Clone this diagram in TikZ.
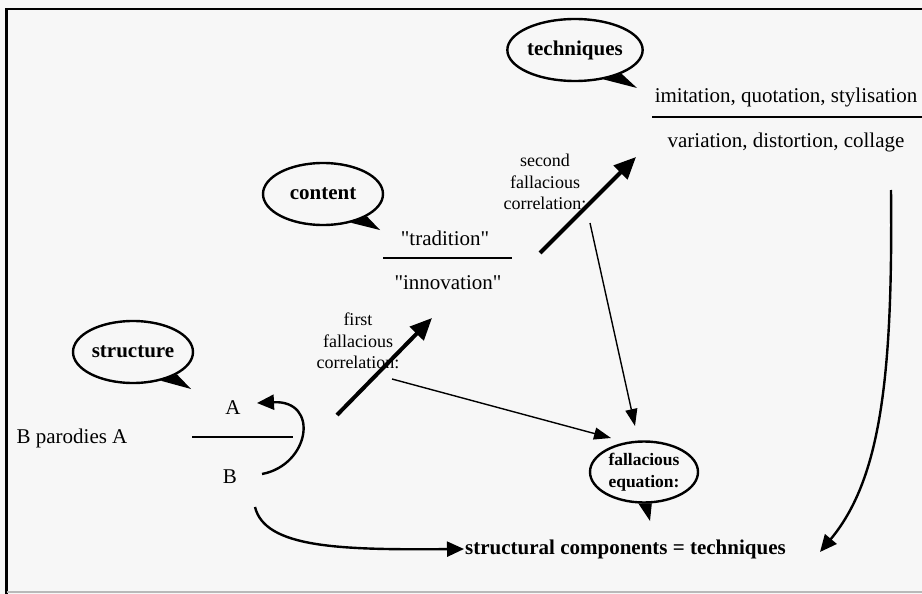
\documentclass[tikz,border=0pt]{standalone}
\usepackage{fontspec}
\setmainfont{Liberation Serif}
\usetikzlibrary{shapes.geometric,arrows.meta}
\begin{document}
\begin{tikzpicture}[x=1pt,y=-1pt,
  bubble/.style={ellipse, draw, line width=2.4pt, minimum width=120pt, minimum height=62pt, inner sep=0pt, font=\bfseries\fontsize{21}{25}\selectfont},
  lbl/.style={font=\fontsize{21}{25}\selectfont, inner sep=1pt},
  small/.style={font=\fontsize{18}{21.5}\selectfont, align=center, inner sep=1pt},
  bigarrow/.style={line width=4pt, -{Triangle[length=22pt,width=19pt]}},
  thinarrow/.style={line width=1.4pt, -{Triangle[length=17pt,width=12pt]}},
  curvearrow/.style={line width=2.4pt, -{Triangle[length=17pt,width=15pt]}},
  rulebar/.style={line width=2.4pt},
  tail/.style={fill=black}
]
\useasboundingbox (0,0) rectangle (922,594);
\fill[gray!6] (0,0) rectangle (922,594);
% frame
\draw[line width=2.5pt] (930,9) -- (6.5,9) -- (6.5,600);
\draw[gray!55, line width=1.5pt] (6.5,592) -- (930,592);

% bubbles
\node[bubble] (tech) at (575,50) {techniques};
\node[bubble] (cont) at (323,194) {content};
\node[bubble] (struc) at (133,352) {structure};
\node[bubble, minimum width=108pt, minimum height=61pt, align=center, font=\bfseries\fontsize{17.5}{22}\selectfont] (feq) at (644,472) {fallacious\\equation:};

\coordinate (techtip) at (637,88);
\coordinate (conttip) at (380,230);
\coordinate (structip) at (191,389);
\coordinate (feqtip) at (650,521);
\fill[tail] (tech.-27) -- (techtip) -- (tech.-46) -- cycle;
\fill[tail] (cont.-27) -- (conttip) -- (cont.-46) -- cycle;
\fill[tail] (struc.-27) -- (structip) -- (struc.-46) -- cycle;
\fill[tail] (feq.-76) -- (feqtip) -- (feq.-100) -- cycle;

% texts
\node[lbl] (imit) at (786,97) {imitation, quotation, stylisation};
\coordinate (r1a) at (652,117); \coordinate (r1b) at (930,117);
\draw[rulebar] (r1a) -- (r1b);
\node[lbl] (vari) at (786,142) {variation, distortion, collage};

\node[lbl] (trad) at (445,238) {\textquotedbl tradition\textquotedbl};
\coordinate (r2a) at (383,258); \coordinate (r2b) at (512,258);
\draw[rulebar] (r2a) -- (r2b);
\node[lbl] (innov) at (448,283) {\textquotedbl innovation\textquotedbl};

\node[lbl] (bpa) at (72,438) {B parodies A};
\coordinate (r3a) at (192,437); \coordinate (r3b) at (293,437);
\draw[rulebar] (r3a) -- (r3b);
\node[lbl] (A) at (233,408) {A};
\node[lbl] (B) at (230,477) {B};

\node[small] (first) at (358,341) {first\\fallacious\\correlation:};
\node[small] (second) at (545,182) {second\\fallacious\\correlation:};

\node[lbl, font=\bfseries\fontsize{21}{25}\selectfont, anchor=west] (sct) at (464,549) {structural components = techniques};

% arrows
\coordinate (f1s) at (337,415); \coordinate (f1e) at (432,318);
\draw[bigarrow] (f1s) -- (f1e);
\coordinate (f2s) at (540,253); \coordinate (f2e) at (636,157);
\draw[bigarrow] (f2s) -- (f2e);
\coordinate (t1s) at (392,379); \coordinate (t1e) at (611,438);
\draw[thinarrow] (t1s) -- (t1e);
\coordinate (t2s) at (590,223); \coordinate (t2e) at (635,426);
\draw[thinarrow] (t2s) -- (t2e);

% curves
\coordinate (bs) at (262,474); \coordinate (ae) at (257,403);
\draw[curvearrow] (bs) .. controls (310,465) and (320,400) .. (ae);
\coordinate (bs2) at (255,507);
\draw[curvearrow] (bs2) .. controls (265,548) and (340,550) .. (sct.west);
\coordinate (rs) at (891,190); \coordinate (re) at (820,552);
\draw[curvearrow] (rs) .. controls (893,380) and (880,480) .. (re);
\end{tikzpicture}
\end{document}
